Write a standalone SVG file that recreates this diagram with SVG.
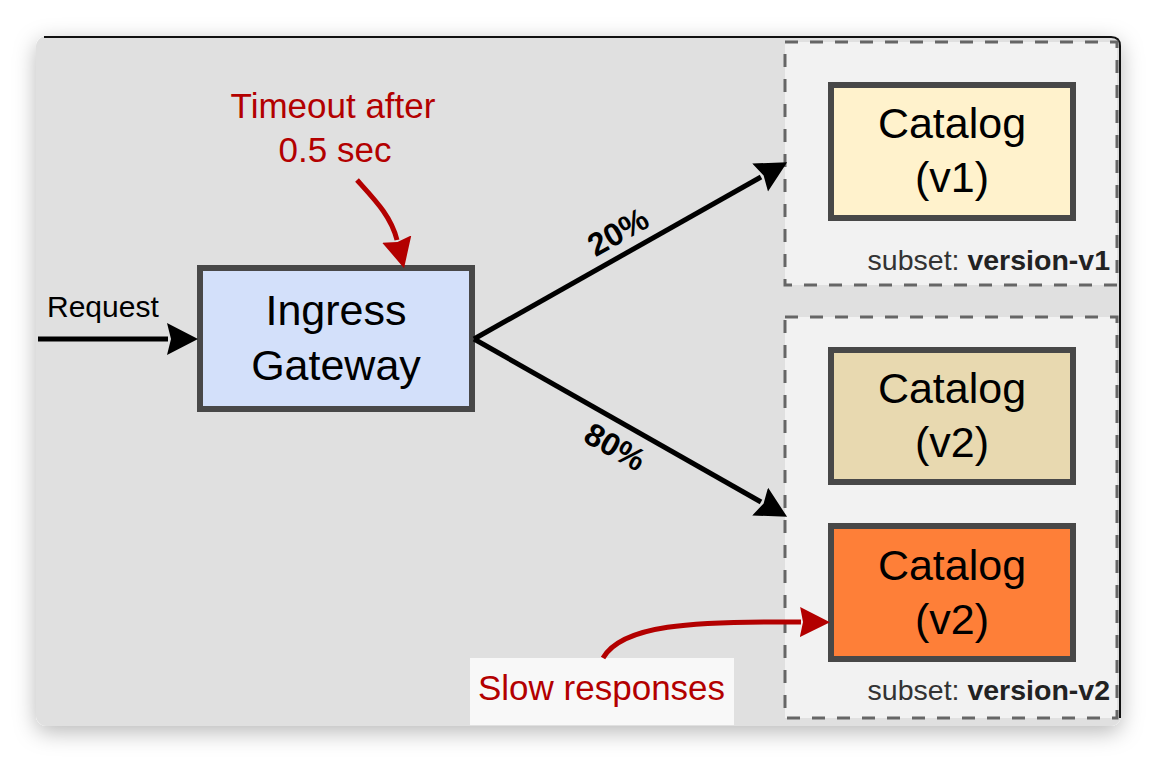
<svg xmlns="http://www.w3.org/2000/svg" width="1158" height="762" viewBox="0 0 1158 762">
  <defs>
    <filter id="shadow" x="-10%" y="-10%" width="120%" height="125%">
      <feDropShadow dx="0" dy="6" stdDeviation="11" flood-color="#000" flood-opacity="0.28"/>
    </filter>
    <marker id="arrowBlack" markerUnits="userSpaceOnUse" markerWidth="32" markerHeight="34" refX="1" refY="16" orient="auto" viewBox="0 0 32 34">
      <path d="M0,0 L31,16 L0,32 L4,16 Z" fill="#000"/>
    </marker>
    <marker id="arrowRed" markerUnits="userSpaceOnUse" markerWidth="32" markerHeight="32" refX="1" refY="15" orient="auto" viewBox="0 0 32 32">
      <path d="M0,0 L30,15 L0,30 L3,15 Z" fill="#b30000"/>
    </marker>
    <style>
      .node { stroke: #484848; stroke-width: 6; }
      .group { fill: #f2f2f2; stroke: #666666; stroke-width: 3; stroke-dasharray: 13 12; }
      .big { font-family: "Liberation Sans", Arial, sans-serif; font-size: 43px; fill: #000; text-anchor: middle; }
      .red { font-family: "Liberation Sans", Arial, sans-serif; font-size: 35px; fill: #b30000; }
      .pct { font-family: "Liberation Sans", Arial, sans-serif; font-size: 32px; font-weight: bold; fill: #000; text-anchor: middle; }
      .subset { font-family: "Liberation Sans", Arial, sans-serif; font-size: 28.5px; fill: #333; text-anchor: end; }
      .edge { fill: none; stroke: #000; stroke-width: 5; }
      .redEdge { fill: none; stroke: #b30000; stroke-width: 5; }
    </style>
  </defs>

  <rect width="1158" height="762" fill="#ffffff"/>

  <g id="card">
    <rect x="36" y="36" width="1085" height="690" rx="11" fill="#e0e0e0" filter="url(#shadow)"/>
    <path d="M44,37 H1111 Q1120,37 1120,46 V718" fill="none" stroke="#111" stroke-width="2"/>
  </g>

  <g id="subset-v1">
    <rect class="group" x="785" y="42" width="332" height="243"/>
    <text class="subset" x="1110" y="270">subset: <tspan font-weight="bold" fill="#222">version-v1</tspan></text>
  </g>

  <g id="subset-v2">
    <rect class="group" x="785" y="317" width="332" height="401"/>
    <text class="subset" x="1110" y="700">subset: <tspan font-weight="bold" fill="#222">version-v2</tspan></text>
  </g>

  <g id="ingress-gateway">
    <rect class="node" x="200" y="268" width="272" height="141" fill="#d3e0fa"/>
    <text class="big" x="336" y="325">Ingress</text>
    <text class="big" x="336" y="380">Gateway</text>
  </g>

  <g id="catalog-v1">
    <rect class="node" x="831" y="85" width="242" height="133" fill="#fff2cc"/>
    <text class="big" x="952" y="138">Catalog</text>
    <text class="big" x="952" y="192">(v1)</text>
  </g>

  <g id="catalog-v2-a">
    <rect class="node" x="831" y="350" width="242" height="132" fill="#e8d9b0"/>
    <text class="big" x="952" y="403">Catalog</text>
    <text class="big" x="952" y="457">(v2)</text>
  </g>

  <g id="catalog-v2-b">
    <rect class="node" x="831" y="526" width="242" height="133" fill="#fe7f38"/>
    <text class="big" x="952" y="580">Catalog</text>
    <text class="big" x="952" y="634">(v2)</text>
  </g>

  <g id="timeout-note">
    <text class="red" x="333" y="118" text-anchor="middle">Timeout after</text>
    <text class="red" x="335" y="162" text-anchor="middle">0.5 sec</text>
  </g>

  <g id="slow-note">
    <rect x="470" y="658" width="264" height="67" fill="#f8f8f8"/>
    <text class="red" x="478" y="700">Slow responses</text>
  </g>

  <g id="connectors">
    <path class="edge" d="M38,339 H168" marker-end="url(#arrowBlack)"/>
    <path class="edge" d="M474,339 L761,177" marker-end="url(#arrowBlack)"/>
    <path class="edge" d="M474,339 L761,502" marker-end="url(#arrowBlack)"/>
    <path class="redEdge" d="M357,180 C375,200 391,216 397,240" marker-end="url(#arrowRed)"/>
    <path class="redEdge" d="M603,658 C622,625 690,621 801,622" marker-end="url(#arrowRed)"/>
    <text class="pct" x="618" y="243" transform="rotate(-29.4 618 232)">20%</text>
    <text class="pct" x="615" y="458" transform="rotate(29.4 615 447)">80%</text>
    <text x="47" y="317" font-family="Liberation Sans, Arial, sans-serif" font-size="30" fill="#000">Request</text>
  </g>
</svg>
